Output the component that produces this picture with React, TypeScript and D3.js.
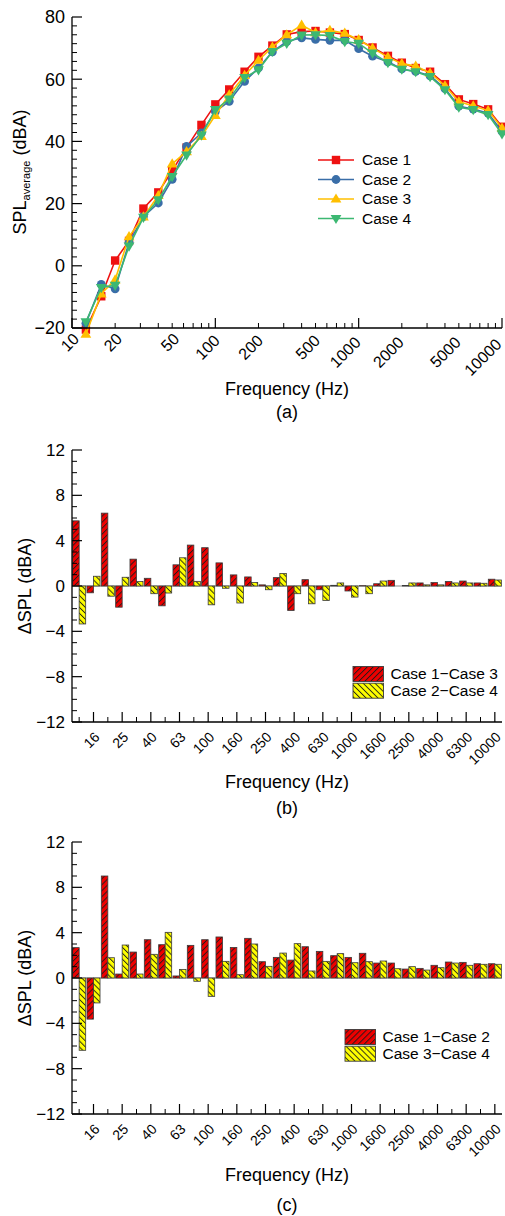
import React from "react";
import * as d3 from "d3";

// ---------- DATA ----------
const freqs = [12.5, 16, 20, 25, 31.5, 40, 50, 63, 80, 100, 125, 160, 200, 250, 315, 400, 500, 630, 800, 1000, 1250, 1600, 2000, 2500, 3150, 4000, 5000, 6300, 8000, 10000];
const freqLabels = ["12.5", "16", "20", "25", "31.5", "40", "50", "63", "80", "100", "125", "160", "200", "250", "315", "400", "500", "630", "800", "1000", "1250", "1600", "2000", "2500", "3150", "4000", "5000", "6300", "8000", "10000"];
const barTickLabels = ["16", "25", "40", "63", "100", "160", "250", "400", "630", "1000", "1600", "2500", "4000", "6300", "10000"];

const case1 = [-20.5, -9.8, 1.7, 8.0, 18.4, 23.6, 30.6, 38.0, 45.3, 51.9, 56.7, 62.4, 67.2, 70.8, 74.4, 75.3, 75.5, 75.0, 74.5, 72.6, 70.2, 67.5, 65.3, 63.6, 62.4, 58.4, 53.5, 52.0, 50.3, 44.7];
const case2 = [-18.5, -6.0, -7.4, 7.5, 15.8, 20.2, 27.8, 38.4, 42.7, 49.6, 52.9, 59.3, 63.6, 68.8, 72.1, 73.3, 72.8, 72.5, 72.5, 69.8, 67.4, 65.6, 63.3, 62.5, 61.1, 57.0, 51.3, 50.4, 49.1, 43.2];
const case3 = [-22.0, -9.0, -4.5, 9.4, 15.7, 22.6, 32.8, 36.7, 41.6, 48.4, 55.0, 61.2, 66.1, 70.3, 74.3, 77.4, 75.0, 75.7, 74.8, 72.7, 70.0, 67.1, 65.0, 64.2, 62.0, 57.9, 52.8, 51.4, 49.9, 44.3];
const case4 = [-18.0, -7.0, -6.3, 6.3, 15.6, 21.2, 28.7, 35.6, 42.0, 50.2, 53.6, 60.5, 63.0, 68.9, 71.5, 74.2, 74.3, 74.0, 72.1, 71.5, 68.4, 65.3, 63.2, 62.4, 60.8, 56.6, 51.0, 50.2, 48.6, 42.4];

const diff13 = [5.75, -0.6, 6.43, -1.87, 2.37, 0.68, -1.75, 1.87, 3.61, 3.38, 2.04, 0.98, 0.8, 0.1, 0.74, -2.16, 0.56, -0.33, 0.06, -0.44, 0.03, 0.2, 0.5, 0.05, 0.27, 0.3, 0.4, 0.44, 0.27, 0.6];
const diff24 = [-3.35, 0.86, -0.9, 0.77, 0.39, -0.68, -0.62, 2.49, 0.41, -1.66, -0.2, -1.5, 0.3, -0.33, 1.1, -0.68, -1.57, -1.27, 0.27, -0.98, -0.68, 0.44, 0.0, 0.27, 0.1, 0.1, 0.27, 0.27, 0.24, 0.53];

const diff12 = [2.68, -3.63, 9.0, 0.35, 2.29, 3.38, 2.94, 0.18, 2.88, 3.38, 3.62, 2.7, 3.5, 1.44, 1.82, 1.58, 2.76, 2.35, 1.97, 1.82, 2.18, 1.32, 1.32, 0.79, 0.85, 1.12, 1.41, 1.38, 1.26, 1.26];
const diff34 = [-6.38, -2.2, 1.79, 2.91, 0.35, 2.09, 4.03, 0.76, -0.29, -1.62, 1.47, 0.29, 3.0, 1.03, 2.2, 3.03, 0.62, 1.47, 2.15, 1.35, 1.44, 1.5, 0.82, 1.0, 0.7, 0.91, 1.32, 1.12, 1.21, 1.21];

const logTickValues = [10, 20, 50, 100, 200, 500, 1000, 2000, 5000, 10000];
const yTicksA = [-20, 0, 20, 40, 60, 80];
const yTicksBar = [-12, -8, -4, 0, 4, 8, 12];

// ---------- STYLE ----------
const FONT = "'Liberation Sans', Arial, Helvetica, sans-serif";
const RED = "#ee1111";
const BLUE = "#3a6ea8";
const AMBER = "#ffbf00";
const GREEN = "#3cb872";
const BAR_RED = "#ee0000";
const BAR_YEL = "#ffff00";

const fmt = (v: number) => (v < 0 ? "\u2212" + Math.abs(v) : String(v));

const X0 = 72;
const X1 = 502;

function Marker({ type, x, y, color }: { type: string; x: number; y: number; color: string }) {
  if (type === "square") return <rect x={x - 4.2} y={y - 4.2} width={8.4} height={8.4} fill={color} />;
  if (type === "circle") return <circle cx={x} cy={y} r={4.4} fill={color} />;
  if (type === "up") return <path d={`M${x},${y - 5.6}L${x + 5.4},${y + 3.6}L${x - 5.4},${y + 3.6}Z`} fill={color} />;
  return <path d={`M${x},${y + 5.6}L${x + 5.4},${y - 3.6}L${x - 5.4},${y - 3.6}Z`} fill={color} />;
}

function PanelA() {
  const x = d3.scaleLog().domain([10, 10000]).range([X0, X1]);
  const y = d3.scaleLinear().domain([-20, 80]).range([328, 17]);
  const series = [
    { name: "Case 1", data: case1, color: RED, marker: "square" },
    { name: "Case 2", data: case2, color: BLUE, marker: "circle" },
    { name: "Case 3", data: case3, color: AMBER, marker: "up" },
    { name: "Case 4", data: case4, color: GREEN, marker: "down" },
  ];
  const line = d3
    .line<number>()
    .x((_, i) => x(freqs[i]))
    .y((d) => y(d));
  const minorX: number[] = [];
  [10, 100, 1000].forEach((dec) => {
    for (let k = 2; k <= 9; k++) minorX.push(dec * k);
  });
  const majorX = [10, 100, 1000, 10000];
  const minorY: number[] = [];
  for (let v = -20; v < 80; v += 20) {
    for (let k = 1; k < 7; k++) minorY.push(v + (20 * k) / 7);
  }
  const yb = y(-20);
  return (
    <g>
      {series.map((s) => (
        <g key={s.name}>
          <path d={line(s.data) || ""} fill="none" stroke={s.color} strokeWidth={1.6} />
          {s.data.map((d, i) => (
            <Marker key={i} type={s.marker} x={x(freqs[i])} y={y(d)} color={s.color} />
          ))}
        </g>
      ))}
      <line x1={X0} x2={X0} y1={y(80)} y2={yb} stroke="#000" strokeWidth={1.3} />
      <line x1={X0} x2={X1} y1={yb} y2={yb} stroke="#000" strokeWidth={1.3} />
      {yTicksA.map((v) => (
        <g key={v}>
          <line x1={X0} x2={X0 + 10} y1={y(v)} y2={y(v)} stroke="#000" strokeWidth={1.2} />
          <text x={65} y={y(v)} dy="0.35em" textAnchor="end" fontSize={18} fontFamily={FONT}>
            {fmt(v)}
          </text>
        </g>
      ))}
      {minorY.map((v, i) => (
        <line key={i} x1={X0} x2={X0 + 5} y1={y(v)} y2={y(v)} stroke="#000" strokeWidth={1} />
      ))}
      {majorX.map((v) => (
        <line key={v} x1={x(v)} x2={x(v)} y1={yb} y2={yb - 10} stroke="#000" strokeWidth={1.2} />
      ))}
      {minorX.map((v) => (
        <line key={v} x1={x(v)} x2={x(v)} y1={yb} y2={yb - 5} stroke="#000" strokeWidth={1} />
      ))}
      {logTickValues.map((v) => {
        const s = String(v);
        const w = s.length * 0.556 * 16;
        const ax = x(v) + 8 - 0.28 * (w - 17.8);
        const ay = 340 + 0.2 * (w - 17.8);
        return (
          <text
            key={v}
            x={ax}
            y={ay}
            textAnchor="end"
            fontSize={16}
            fontFamily={FONT}
            transform={`rotate(-45 ${ax} ${ay})`}
          >
            {s}
          </text>
        );
      })}
      <text x={(X0 + X1) / 2} y={395} textAnchor="middle" fontSize={18} fontFamily={FONT}>
        Frequency (Hz)
      </text>
      <text x={(X0 + X1) / 2} y={418} textAnchor="middle" fontSize={18} fontFamily={FONT}>
        (a)
      </text>
      <text x={26} y={172} textAnchor="middle" fontSize={18} fontFamily={FONT} transform="rotate(-90 26 172)">
        SPL
        <tspan fontSize={11} dy={4}>
          average
        </tspan>
        <tspan dy={-4}> (dBA)</tspan>
      </text>
      {series.map((s, i) => {
        const ly = 160 + i * 19.5;
        return (
          <g key={s.name}>
            <line x1={318} x2={354} y1={ly} y2={ly} stroke={s.color} strokeWidth={1.6} />
            <Marker type={s.marker} x={336} y={ly} color={s.color} />
            <text x={362} y={ly} dy="0.35em" fontSize={15.5} fontFamily={FONT}>
              {s.name}
            </text>
          </g>
        );
      })}
    </g>
  );
}

function BarPanel({
  top,
  bottom,
  a,
  b,
  labels,
  titleY,
  tagY,
  tag,
}: {
  top: number;
  bottom: number;
  a: number[];
  b: number[];
  labels: string[];
  titleY: number;
  tagY: number;
  tag: string;
}) {
  const x = d3.scaleBand<string>().domain(freqLabels).range([X0, X1]).paddingInner(0.09).paddingOuter(0.045);
  const y = d3.scaleLinear().domain([-12, 12]).range([bottom, top]);
  const bw = x.bandwidth() / 2;
  const minor: number[] = [];
  for (let v = -12; v <= 12; v++) if (v % 4 !== 0) minor.push(v);
  const center = (c: string) => (x(c) as number) + x.bandwidth() / 2;
  return (
    <g>
      <line x1={X0} x2={X1} y1={y(0)} y2={y(0)} stroke="#8a8a8a" strokeWidth={1.2} />
      {freqLabels.map((c, i) => (
        <g key={c}>
          <rect
            x={x(c) as number}
            y={Math.min(y(a[i]), y(0))}
            width={bw}
            height={Math.abs(y(a[i]) - y(0))}
            fill="url(#hatchR)"
            stroke="#3a3a3a"
            strokeWidth={0.8}
          />
          <rect
            x={(x(c) as number) + bw}
            y={Math.min(y(b[i]), y(0))}
            width={bw}
            height={Math.abs(y(b[i]) - y(0))}
            fill="url(#hatchY)"
            stroke="#3a3a3a"
            strokeWidth={0.8}
          />
        </g>
      ))}
      <line x1={X0} x2={X0} y1={top} y2={bottom} stroke="#000" strokeWidth={1.3} />
      <line x1={X0} x2={X1} y1={bottom} y2={bottom} stroke="#000" strokeWidth={1.3} />
      {yTicksBar.map((v) => (
        <g key={v}>
          <line x1={X0} x2={X0 + 10} y1={y(v)} y2={y(v)} stroke="#000" strokeWidth={1.2} />
          <text x={65} y={y(v)} dy="0.35em" textAnchor="end" fontSize={17} fontFamily={FONT}>
            {fmt(v)}
          </text>
        </g>
      ))}
      {minor.map((v) => (
        <line key={v} x1={X0} x2={X0 + 5} y1={y(v)} y2={y(v)} stroke="#000" strokeWidth={1} />
      ))}
      {freqLabels.map((c) => {
        const major = labels.includes(c);
        return (
          <line
            key={c}
            x1={center(c)}
            x2={center(c)}
            y1={bottom}
            y2={bottom - (major ? 10 : 5)}
            stroke="#000"
            strokeWidth={major ? 1.2 : 1}
          />
        );
      })}
      {labels.map((c) => {
        const ax = center(c) + 7;
        const ay = bottom + 16;
        return (
          <text
            key={c}
            x={ax}
            y={ay}
            textAnchor="end"
            fontSize={14}
            fontFamily={FONT}
            transform={`rotate(-45 ${ax} ${ay})`}
          >
            {c}
          </text>
        );
      })}
      <text x={(X0 + X1) / 2} y={titleY} textAnchor="middle" fontSize={18} fontFamily={FONT}>
        Frequency (Hz)
      </text>
      <text x={(X0 + X1) / 2} y={tagY} textAnchor="middle" fontSize={18} fontFamily={FONT}>
        {tag}
      </text>
      <text
        x={31}
        y={(top + bottom) / 2}
        textAnchor="middle"
        fontSize={18}
        fontFamily={FONT}
        transform={`rotate(-90 31 ${(top + bottom) / 2})`}
      >
        {"\u0394SPL (dBA)"}
      </text>
    </g>
  );
}

function BarLegend({ x, y, names }: { x: number; y: number; names: string[] }) {
  return (
    <g>
      {names.map((n, i) => {
        const ry = y + i * 16.7;
        return (
          <g key={n}>
            <rect x={x} y={ry} width={30.5} height={15} fill={i === 0 ? "url(#hatchR)" : "url(#hatchY)"} stroke="#3a3a3a" strokeWidth={0.9} />
            <text x={x + 37.5} y={ry + 7.5} dy="0.35em" fontSize={15.5} fontFamily={FONT}>
              {n}
            </text>
          </g>
        );
      })}
    </g>
  );
}

export default function App() {
  return (
    <svg
      width={505}
      height={1216}
      viewBox="0 0 505 1216"
      style={{ position: "absolute", left: 0, top: 0, background: "#fff" }}
    >
      <defs>
        <pattern id="hatchR" patternUnits="userSpaceOnUse" width={4.2} height={4.2} patternTransform="rotate(45)">
          <rect x={0} y={0} width={4.2} height={4.2} fill={BAR_RED} />
          <line x1={0.5} y1={0} x2={0.5} y2={4.2} stroke="#1a1a1a" strokeWidth={0.9} />
        </pattern>
        <pattern id="hatchY" patternUnits="userSpaceOnUse" width={4.2} height={4.2} patternTransform="rotate(-45)">
          <rect x={0} y={0} width={4.2} height={4.2} fill={BAR_YEL} />
          <line x1={0.5} y1={0} x2={0.5} y2={4.2} stroke="#1a1a1a" strokeWidth={0.9} />
        </pattern>
      </defs>
      <rect x={0} y={0} width={505} height={1216} fill="#fff" />
      <PanelA />
      <BarPanel top={450} bottom={722} a={diff13} b={diff24} labels={barTickLabels} titleY={788} tagY={814} tag="(b)" />
      <BarLegend x={353} y={666.5} names={["Case 1\u2212Case 3", "Case 2\u2212Case 4"]} />
      <BarPanel top={842} bottom={1114} a={diff12} b={diff34} labels={barTickLabels} titleY={1181} tagY={1211} tag="(c)" />
      <BarLegend x={345} y={1029.5} names={["Case 1\u2212Case 2", "Case 3\u2212Case 4"]} />
    </svg>
  );
}
